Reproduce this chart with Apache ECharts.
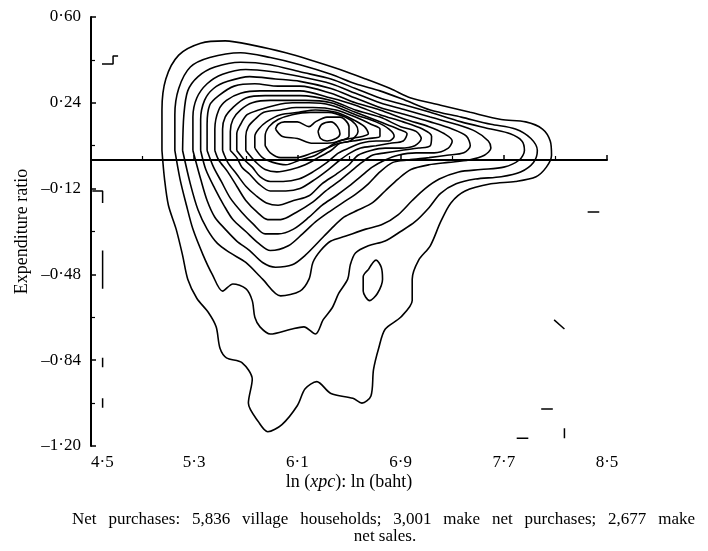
<!DOCTYPE html>
<html lang="en">
  <head>
    <meta charset="UTF-8" />
    <title>Net purchases contour</title>
    <script src="https://cdn.jsdelivr.net/npm/echarts/dist/echarts.min.js"></script>
    <style>
      html, body { margin: 0; padding: 0; background: #fff; }
      #box { width: 708px; height: 551px; }
    </style>
  </head>
  <body>
    <div id="box"></div>
    <script>
      // contour levels, outermost first: [ln(xpc), expenditure ratio]
      let contour1 = [[5.05,0.04],[5.05,0.21],[5.08,0.34],[5.18,0.44],[5.35,0.49],[5.54,0.50],[5.77,0.48],[6.01,0.45],[6.20,0.42],[6.43,0.38],[6.63,0.34],[6.82,0.30],[6.98,0.26],[7.21,0.23],[7.44,0.20],[7.68,0.17],[7.87,0.16],[8.00,0.13],[8.06,0.08],[8.07,0.02],[8.03,-0.03],[7.95,-0.07],[7.79,-0.09],[7.60,-0.10],[7.40,-0.13],[7.29,-0.18],[7.21,-0.26],[7.13,-0.36],[7.04,-0.42],[6.99,-0.50],[6.99,-0.59],[6.90,-0.66],[6.78,-0.71],[6.73,-0.79],[6.69,-0.88],[6.67,-0.99],[6.60,-1.02],[6.53,-1.00],[6.36,-0.98],[6.25,-0.93],[6.16,-0.96],[6.10,-1.03],[5.98,-1.11],[5.87,-1.14],[5.80,-1.10],[5.72,-1.02],[5.75,-0.92],[5.67,-0.85],[5.55,-0.83],[5.50,-0.79],[5.47,-0.70],[5.41,-0.64],[5.32,-0.58],[5.25,-0.50],[5.21,-0.40],[5.16,-0.29],[5.10,-0.19],[5.07,-0.08]];
      let contour2 = [[5.15,0.04],[5.15,0.19],[5.18,0.30],[5.27,0.39],[5.42,0.43],[5.66,0.45],[5.89,0.43],[6.12,0.40],[6.36,0.36],[6.55,0.32],[6.74,0.29],[6.94,0.25],[7.13,0.21],[7.37,0.18],[7.60,0.15],[7.79,0.13],[7.91,0.09],[7.96,0.04],[7.93,-0.01],[7.83,-0.05],[7.68,-0.07],[7.48,-0.08],[7.33,-0.10],[7.21,-0.14],[7.12,-0.20],[7.01,-0.26],[6.90,-0.30],[6.78,-0.34],[6.65,-0.36],[6.55,-0.39],[6.51,-0.44],[6.49,-0.50],[6.42,-0.56],[6.37,-0.62],[6.30,-0.67],[6.24,-0.73],[6.15,-0.70],[6.05,-0.71],[5.89,-0.73],[5.81,-0.70],[5.77,-0.66],[5.75,-0.59],[5.70,-0.54],[5.60,-0.52],[5.52,-0.55],[5.44,-0.48],[5.37,-0.40],[5.29,-0.29],[5.24,-0.19],[5.19,-0.08]];
      let island2 = [[6.65,-0.46],[6.71,-0.42],[6.75,-0.45],[6.76,-0.50],[6.72,-0.56],[6.66,-0.59],[6.61,-0.55],[6.61,-0.49]];
      let contour3 = [[5.21,0.04],[5.22,0.19],[5.25,0.29],[5.33,0.35],[5.46,0.39],[5.66,0.41],[5.89,0.40],[6.12,0.37],[6.36,0.34],[6.55,0.30],[6.74,0.26],[6.94,0.23],[7.13,0.20],[7.37,0.16],[7.60,0.13],[7.75,0.11],[7.84,0.08],[7.86,0.04],[7.82,0.00],[7.70,-0.03],[7.52,-0.04],[7.35,-0.05],[7.20,-0.08],[7.09,-0.12],[6.99,-0.17],[6.88,-0.23],[6.76,-0.27],[6.63,-0.29],[6.47,-0.32],[6.36,-0.34],[6.28,-0.38],[6.22,-0.43],[6.19,-0.50],[6.12,-0.55],[5.97,-0.57],[5.83,-0.50],[5.70,-0.43],[5.58,-0.39],[5.48,-0.35],[5.40,-0.29],[5.33,-0.21],[5.27,-0.10]];
      let contour4 = [[5.29,0.04],[5.29,0.18],[5.32,0.26],[5.40,0.32],[5.52,0.36],[5.70,0.38],[5.91,0.37],[6.12,0.35],[6.36,0.32],[6.55,0.28],[6.74,0.24],[6.94,0.21],[7.13,0.18],[7.33,0.15],[7.48,0.12],[7.58,0.08],[7.60,0.05],[7.55,0.02],[7.43,0.00],[7.27,-0.01],[7.12,-0.02],[6.98,-0.04],[6.88,-0.08],[6.78,-0.13],[6.68,-0.18],[6.57,-0.21],[6.46,-0.24],[6.36,-0.29],[6.27,-0.34],[6.16,-0.40],[6.06,-0.44],[5.93,-0.45],[5.83,-0.43],[5.73,-0.38],[5.63,-0.34],[5.54,-0.29],[5.46,-0.24],[5.40,-0.17],[5.35,-0.08]];
      let contour5 = [[5.35,0.04],[5.35,0.17],[5.38,0.25],[5.45,0.30],[5.56,0.33],[5.73,0.35],[5.93,0.34],[6.12,0.33],[6.36,0.30],[6.55,0.26],[6.74,0.22],[6.94,0.19],[7.13,0.16],[7.30,0.13],[7.41,0.10],[7.44,0.06],[7.39,0.03],[7.26,0.02],[7.12,0.01],[6.96,0.00],[6.84,-0.01],[6.74,-0.05],[6.65,-0.10],[6.56,-0.14],[6.45,-0.18],[6.34,-0.22],[6.24,-0.26],[6.14,-0.31],[6.03,-0.36],[5.89,-0.38],[5.80,-0.35],[5.70,-0.30],[5.60,-0.25],[5.53,-0.19],[5.46,-0.12],[5.39,-0.04]];
      let contour6 = [[5.40,0.04],[5.40,0.15],[5.42,0.23],[5.49,0.27],[5.61,0.31],[5.77,0.32],[5.95,0.31],[6.12,0.31],[6.36,0.28],[6.55,0.24],[6.74,0.21],[6.94,0.17],[7.12,0.14],[7.24,0.11],[7.30,0.08],[7.27,0.05],[7.16,0.03],[7.02,0.03],[6.88,0.02],[6.78,0.00],[6.68,-0.03],[6.59,-0.07],[6.50,-0.11],[6.40,-0.15],[6.29,-0.19],[6.19,-0.24],[6.07,-0.29],[5.95,-0.31],[5.85,-0.31],[5.76,-0.27],[5.67,-0.22],[5.58,-0.16],[5.51,-0.09],[5.45,-0.03]];
      let contour7 = [[5.46,0.04],[5.46,0.13],[5.49,0.21],[5.55,0.25],[5.66,0.28],[5.81,0.29],[5.97,0.29],[6.12,0.29],[6.36,0.26],[6.55,0.23],[6.74,0.19],[6.92,0.16],[7.07,0.13],[7.14,0.10],[7.13,0.06],[7.04,0.05],[6.90,0.04],[6.78,0.03],[6.68,0.02],[6.60,-0.01],[6.51,-0.05],[6.42,-0.09],[6.32,-0.13],[6.21,-0.18],[6.09,-0.22],[5.97,-0.25],[5.87,-0.25],[5.79,-0.22],[5.70,-0.17],[5.63,-0.11],[5.56,-0.05],[5.49,0.00]];
      let contour8 = [[5.52,0.04],[5.52,0.13],[5.54,0.18],[5.60,0.22],[5.70,0.26],[5.85,0.27],[6.01,0.27],[6.12,0.27],[6.36,0.25],[6.55,0.21],[6.74,0.18],[6.90,0.14],[7.02,0.12],[7.06,0.09],[7.01,0.06],[6.90,0.05],[6.78,0.05],[6.67,0.04],[6.57,0.02],[6.50,-0.02],[6.40,-0.06],[6.29,-0.10],[6.19,-0.15],[6.07,-0.17],[5.95,-0.19],[5.86,-0.18],[5.78,-0.15],[5.70,-0.11],[5.63,-0.06],[5.56,-0.01]];
      let contour9 = [[5.58,0.04],[5.58,0.12],[5.60,0.17],[5.66,0.21],[5.75,0.24],[5.89,0.25],[6.03,0.25],[6.16,0.25],[6.36,0.24],[6.55,0.20],[6.74,0.16],[6.88,0.13],[6.95,0.11],[6.92,0.08],[6.82,0.07],[6.71,0.06],[6.59,0.05],[6.51,0.03],[6.43,0.00],[6.34,-0.04],[6.24,-0.08],[6.12,-0.12],[6.01,-0.13],[5.89,-0.13],[5.80,-0.10],[5.73,-0.06],[5.67,-0.03],[5.63,0.01]];
      let contour10 = [[5.63,0.04],[5.63,0.11],[5.66,0.15],[5.71,0.19],[5.80,0.21],[5.93,0.23],[6.06,0.24],[6.19,0.24],[6.36,0.23],[6.55,0.19],[6.71,0.16],[6.81,0.13],[6.85,0.10],[6.81,0.08],[6.71,0.08],[6.59,0.07],[6.50,0.05],[6.42,0.03],[6.33,-0.01],[6.22,-0.05],[6.11,-0.08],[5.99,-0.09],[5.89,-0.09],[5.81,-0.07],[5.75,-0.03],[5.69,0.00]];
      let contour11 = [[5.70,0.04],[5.70,0.10],[5.72,0.14],[5.77,0.17],[5.84,0.20],[5.97,0.21],[6.09,0.22],[6.22,0.22],[6.40,0.21],[6.55,0.18],[6.67,0.15],[6.74,0.13],[6.74,0.10],[6.65,0.09],[6.53,0.08],[6.43,0.07],[6.36,0.04],[6.26,0.01],[6.16,-0.02],[6.05,-0.04],[5.94,-0.05],[5.85,-0.04],[5.78,-0.01],[5.73,0.02]];
      let contour12 = [[5.77,0.05],[5.77,0.10],[5.80,0.13],[5.86,0.16],[5.97,0.19],[6.11,0.20],[6.24,0.21],[6.40,0.20],[6.53,0.17],[6.62,0.14],[6.65,0.11],[6.61,0.10],[6.51,0.09],[6.42,0.08],[6.33,0.05],[6.24,0.02],[6.12,0.00],[6.01,-0.02],[5.91,-0.01],[5.83,0.01]];
      let contour13 = [[5.85,0.06],[5.85,0.10],[5.88,0.14],[5.95,0.17],[6.06,0.19],[6.20,0.20],[6.34,0.20],[6.47,0.18],[6.55,0.15],[6.57,0.12],[6.51,0.08],[6.42,0.07],[6.33,0.05],[6.22,0.03],[6.09,0.01],[5.97,0.01],[5.89,0.03]];
      let contour14 = [[5.93,0.13],[5.95,0.15],[6.00,0.16],[6.10,0.16],[6.19,0.14],[6.24,0.16],[6.33,0.18],[6.43,0.18],[6.50,0.14],[6.50,0.10],[6.43,0.08],[6.33,0.07],[6.22,0.07],[6.10,0.09],[5.98,0.10]];
      let contour15 = [[6.26,0.12],[6.29,0.15],[6.36,0.16],[6.41,0.14],[6.43,0.11],[6.40,0.09],[6.33,0.08],[6.28,0.09]];
      // short stray pieces of the outer level near the edges
      let strayMarks = [
        [[4.585,0.403],[4.671,0.403],[4.671,0.436],[4.71,0.436]],
        [[4.51,-0.13],[4.59,-0.13],[4.59,-0.18]],
        [[4.59,-0.38],[4.59,-0.54]],
        [[4.59,-0.83],[4.59,-0.87]],
        [[4.59,-1.0],[4.59,-1.04]],
        [[8.35,-0.218],[8.44,-0.218]],
        [[8.09,-0.671],[8.17,-0.709]],
        [[7.99,-1.045],[8.08,-1.045]],
        [[7.8,-1.167],[7.89,-1.167]],
        [[8.17,-1.125],[8.17,-1.167]]
      ];
      let refLine = 0;

      let captionLine1 = "Net purchases: 5,836 village households; 3,001 make net purchases; 2,677 make";
      let captionLine2 = "net sales.";

      let serif = '"Liberation Serif", "DejaVu Serif", serif';
      let closedSets = [contour1, contour2, island2, contour3, contour4, contour5, contour6, contour7,
        contour8, contour9, contour10, contour11, contour12, contour13, contour14, contour15];

      let series = closedSets.map(function (c) {
        return {
          type: "line",
          data: c.concat([c[0]]),
          symbol: "none",
          smooth: 0.3,
          silent: true,
          lineStyle: { color: "#000", width: 1.6 },
        };
      });
      strayMarks.forEach(function (m) {
        series.push({
          type: "line",
          data: m,
          symbol: "none",
          silent: true,
          lineStyle: { color: "#000", width: 1.5 },
        });
      });
      // horizontal zero line
      series.push({
        type: "line",
        data: [],
        markLine: {
          silent: true,
          symbol: "none",
          label: { show: false },
          lineStyle: { color: "#000", width: 1.5, type: "solid" },
          data: [{ yAxis: refLine }],
        },
      });

      // justify the first caption line by hand
      let cv = document.createElement("canvas").getContext("2d");
      let capFont = "17px " + serif;
      cv.font = capFont;
      let words = captionLine1.split(" ");
      let widths = words.map((w) => cv.measureText(w).width);
      let total = widths.reduce((a, b) => a + b, 0);
      let x0 = 72, x1 = 695;
      let gap = (x1 - x0 - total) / (words.length - 1);
      let graphics = [];
      let cx = x0;
      words.forEach(function (w, i) {
        graphics.push({
          type: "text",
          x: cx,
          y: 520,
          style: { text: w, font: capFont, fill: "#000", textAlign: "left", textVerticalAlign: "middle" },
        });
        cx += widths[i] + gap;
      });
      graphics.push({
        type: "text",
        x: 385,
        y: 537,
        style: { text: captionLine2, font: capFont, fill: "#000", textAlign: "center", textVerticalAlign: "middle" },
      });

      let chart = echarts.init(document.getElementById("box"));
      let option = {
        animation: false,
        backgroundColor: "#fff",
        grid: { left: 91, right: 101, top: 17, bottom: 105 },
        xAxis: {
          type: "value",
          min: 4.5,
          max: 8.5,
          interval: 0.8,
          name: "{a|ln (}{i|xpc}{a|): ln (baht)}",
          nameLocation: "middle",
          nameGap: 27,
          nameMoveOverlap: false,
          nameTextStyle: {
            rich: {
              a: { fontFamily: serif, fontSize: 18, color: "#000" },
              i: { fontFamily: serif, fontSize: 18, color: "#000", fontStyle: "italic" },
            },
          },
          axisLine: { show: true, lineStyle: { color: "#000", width: 2 } },
          axisTick: { show: true, inside: true, length: 5, lineStyle: { color: "#000", width: 1.5 } },
          minorTick: { show: true, splitNumber: 2, length: 4, lineStyle: { color: "#000", width: 1.2 } },
          splitLine: { show: false },
          axisLabel: {
            margin: 8,
            fontFamily: serif,
            fontSize: 17,
            color: "#000",
            alignMinLabel: "left",
            formatter: function (v) {
              return v.toFixed(1).replace(".", "·");
            },
          },
        },
        yAxis: {
          type: "value",
          min: -1.2,
          max: 0.6,
          interval: 0.36,
          name: "Expenditure ratio",
          nameLocation: "middle",
          nameGap: 60,
          nameMoveOverlap: false,
          nameTextStyle: { fontFamily: serif, fontSize: 18, color: "#000" },
          axisLine: { show: true, lineStyle: { color: "#000", width: 2 } },
          axisTick: { show: true, inside: true, length: 5, lineStyle: { color: "#000", width: 1.5 } },
          minorTick: { show: true, splitNumber: 2, length: 4, lineStyle: { color: "#000", width: 1.2 } },
          splitLine: { show: false },
          axisLabel: {
            margin: 10,
            fontFamily: serif,
            fontSize: 17,
            color: "#000",
            formatter: function (v) {
              let s = Math.abs(v).toFixed(2).replace(".", "·");
              return v < -1e-9 ? "–" + s : s;
            },
          },
        },
        graphic: graphics,
        series: series,
      };
      chart.setOption(option);
    </script>
  </body>
</html>
